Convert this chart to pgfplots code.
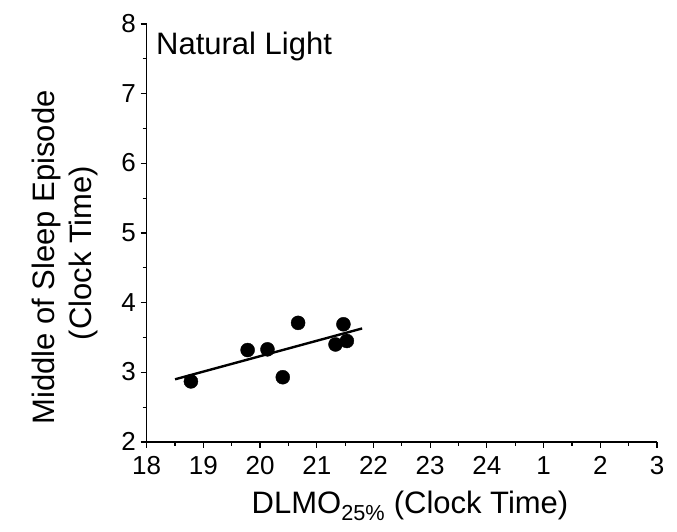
\documentclass[border=0pt]{standalone}
\usepackage{fontspec}
\setmainfont{Liberation Sans}
\usepackage{pgfplots}
\usetikzlibrary{calc}
\pgfplotsset{compat=1.18}
\newcommand{\tickfont}{\fontsize{26}{26}\selectfont}
\begin{document}
\begin{tikzpicture}
\begin{axis}[
  name=ax,
  at={(0,0)}, anchor=south west,
  scale only axis,
  width=510.3pt, height=418pt,
  xmin=18, xmax=27, ymin=2, ymax=8,
  axis x line*=bottom, axis y line*=left,
  axis line style={line width=1.4pt},
  xtick={18,19,20,21,22,23,24,25,26,27},
  xticklabels={18,19,20,21,22,23,24,1,2,3},
  ytick={2,3,4,5,6,7,8},
  minor tick num=1,
  tick align=outside,
  major tick length=6pt, minor tick length=4pt,
  tick style={line width=1.2pt, black},
  /pgf/number format/assume math mode=true,
  ticklabel style={font=\tickfont},
  xticklabel style={anchor=north, inner sep=0pt, text height=17pt, text depth=0pt, yshift=-9pt},
  yticklabel style={anchor=east, inner sep=0pt, text height=17pt, text depth=0pt, xshift=-4.7pt},
  clip=false,
]
\addplot[only marks, mark=*, mark size=7pt, black] coordinates {
  (18.78,2.87) (19.78,3.32) (20.13,3.33) (20.40,2.93)
  (20.67,3.71) (21.33,3.40) (21.47,3.69) (21.53,3.45)
};
\addplot[black, line width=2.4pt] coordinates {(18.5,2.90) (21.80,3.63)};
\end{axis}
\node[anchor=base west, font=\fontsize{31}{31}\selectfont, inner sep=0pt] at ($(ax.south west)+(9.3pt,387pt)$) {Natural Light};
\node[rotate=90, anchor=base, font=\fontsize{31}{31}\selectfont, inner sep=0pt] at ($(ax.south west)+(-91.7pt,184.5pt)$) {Middle of Sleep Episode};
\node[rotate=90, anchor=base, font=\fontsize{31}{31}\selectfont, inner sep=0pt] at ($(ax.south west)+(-54.7pt,189pt)$) {(Clock Time)};
\node[anchor=base, font=\fontsize{31}{31}\selectfont, inner sep=0pt] at ($(ax.south west)+(263.3pt,-72pt)$) {DLMO\textsubscript{25\%} (Clock Time)};
\pgfresetboundingbox
\path[use as bounding box] ($(ax.south west)+(-146.7pt,-90pt)$) rectangle ($(ax.south west)+(530.3pt,442pt)$);
\end{tikzpicture}
\end{document}
